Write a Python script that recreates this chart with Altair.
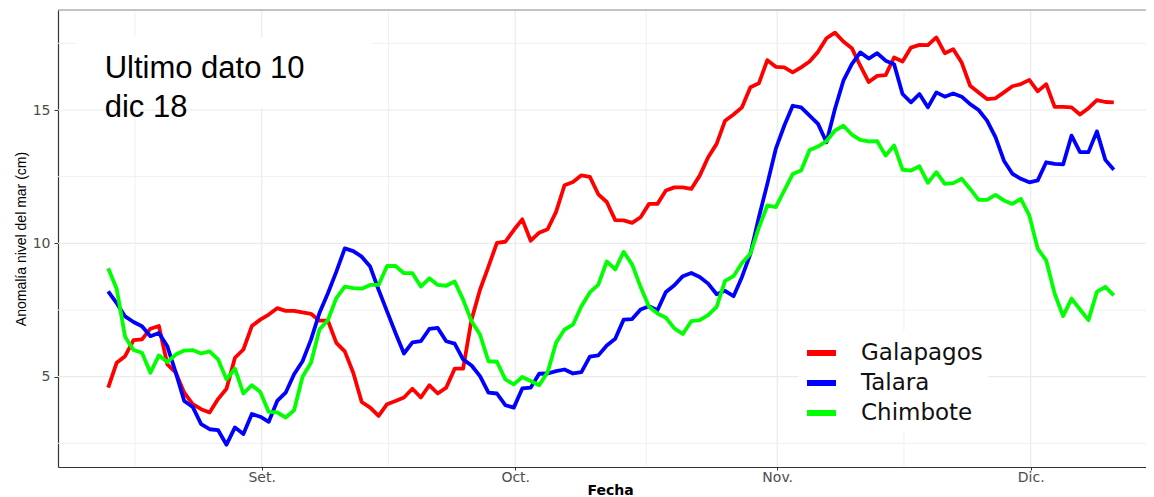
import altair as alt
import pandas as pd

# ---------------- data ----------------
series = ["Galapagos", "Talara", "Chimbote"]
colores = ["#FF0000", "#0000FF", "#00FF00"]
meses = ["Set.", "Oct.", "Nov.", "Dic."]

fechas = [d.strftime("%Y-%m-%dT%H:%M:%SZ")
          for d in pd.date_range("2018-08-13 20:00", periods=120, freq="D")]

galapagos = [4.59, 5.52, 5.77, 6.37, 6.4, 6.8, 6.9, 5.46, 5.15, 4.4,
             3.97, 3.78, 3.66, 4.16, 4.55, 5.71, 6.02, 6.9, 7.14, 7.33,
             7.57, 7.47, 7.47, 7.41, 7.36, 7.1, 7.1, 6.27, 5.95, 5.15,
             4.05, 3.84, 3.53, 3.97, 4.09, 4.22, 4.55, 4.22, 4.68, 4.37,
             4.59, 5.3, 5.3, 7.14, 8.26, 9.13, 10.02, 10.06, 10.5, 10.9,
             10.1, 10.4, 10.53, 11.18, 12.18, 12.3, 12.55, 12.49, 11.84, 11.55,
             10.87, 10.86, 10.77, 10.98, 11.48, 11.48, 11.98, 12.1, 12.1, 12.04,
             12.54, 13.23, 13.73, 14.6, 14.83, 15.1, 15.85, 16.0, 16.87, 16.62,
             16.6, 16.41, 16.6, 16.82, 17.18, 17.69, 17.9, 17.57, 17.32, 16.66,
             16.05, 16.28, 16.31, 16.97, 16.82, 17.34, 17.44, 17.43, 17.72, 17.13,
             17.28, 16.78, 15.91, 15.66, 15.41, 15.44, 15.66, 15.89, 15.97, 16.13,
             15.7, 15.97, 15.12, 15.12, 15.1, 14.83, 15.07, 15.37, 15.3, 15.29]

talara = [8.2, 7.76, 7.26, 7.05, 6.89, 6.52, 6.64, 6.14, 5.15, 4.09,
          3.87, 3.22, 3.03, 3.0, 2.45, 3.1, 2.85, 3.6, 3.5, 3.31,
          4.09, 4.4, 5.09, 5.58, 6.39, 7.39, 8.13, 8.94, 9.81, 9.71,
          9.5, 9.13, 8.26, 7.45, 6.64, 5.87, 6.29, 6.33, 6.79, 6.83,
          6.33, 6.24, 5.65, 5.42, 5.02, 4.4, 4.37, 3.93, 3.84, 4.56,
          4.59, 5.11, 5.12, 5.21, 5.27, 5.12, 5.17, 5.75, 5.8, 6.17,
          6.42, 7.14, 7.16, 7.52, 7.64, 7.49, 8.18, 8.43, 8.77, 8.89,
          8.74, 8.49, 8.09, 8.22, 8.02, 8.74, 9.61, 10.98, 12.23, 13.54,
          14.41, 15.16, 15.1, 14.79, 14.48, 13.79, 15.04, 16.1, 16.72, 17.16,
          16.93, 17.13, 16.85, 16.72, 15.6, 15.29, 15.6, 15.1, 15.66, 15.5,
          15.62, 15.5, 15.22, 15.0, 14.6, 13.98, 13.1, 12.61, 12.42, 12.29,
          12.36, 13.04, 12.98, 12.96, 14.04, 13.42, 13.42, 14.2, 13.13, 12.76]

chimbote = [9.07, 8.3, 6.5, 6.0, 5.9, 5.15, 5.8, 5.55, 5.83, 5.98,
            6.0, 5.87, 5.95, 5.65, 4.9, 5.3, 4.37, 4.68, 4.43, 3.68,
            3.66, 3.47, 3.74, 5.0, 5.52, 6.77, 7.12, 7.95, 8.38, 8.32,
            8.3, 8.44, 8.44, 9.15, 9.15, 8.88, 8.88, 8.38, 8.69, 8.44,
            8.41, 8.57, 7.89, 7.08, 6.58, 5.58, 5.56, 4.9, 4.71, 4.99,
            4.84, 4.68, 5.17, 6.27, 6.77, 6.95, 7.64, 8.16, 8.45, 9.32,
            9.02, 9.68, 9.21, 8.37, 7.62, 7.37, 7.21, 6.81, 6.6, 7.08,
            7.12, 7.31, 7.62, 8.59, 8.77, 9.26, 9.61, 10.59, 11.42, 11.36,
            11.98, 12.6, 12.73, 13.5, 13.63, 13.83, 14.23, 14.41, 14.08, 13.88,
            13.82, 13.83, 13.29, 13.67, 12.76, 12.73, 12.89, 12.27, 12.67, 12.23,
            12.26, 12.42, 12.04, 11.63, 11.63, 11.82, 11.61, 11.48, 11.67, 11.05,
            9.8, 9.36, 8.12, 7.27, 7.93, 7.52, 7.12, 8.18, 8.37, 8.05]

y_ticks = [5, 10, 15]
y_minor = [2.5, 7.5, 12.5, 17.5]
y_top = 18.75
x_major = ["2018-09-01T00:00:00Z", "2018-10-01T00:00:00Z",
           "2018-11-01T00:00:00Z", "2018-12-01T00:00:00Z"]
x_minor = ["2018-08-17T00:00:00Z", "2018-09-16T00:00:00Z",
           "2018-10-16T12:00:00Z", "2018-11-16T00:00:00Z"]

nota = "Ultimo dato 10\ndic 18"

# ---------------- tables ----------------
rows = []
for nombre, vals in zip(series, [galapagos, talara, chimbote]):
    for f, v in zip(fechas, vals):
        rows.append({"fecha": f, "serie": nombre, "valor": v})
df = pd.DataFrame(rows)

df_xmaj = pd.DataFrame({"fecha": x_major})
df_xmin = pd.DataFrame({"fecha": x_minor})
df_ymaj = pd.DataFrame({"valor": y_ticks})
df_ymin = pd.DataFrame({"valor": y_minor})
df_top = pd.DataFrame({"valor": [y_top]})
df_nota = pd.DataFrame({"fecha": ["2018-08-13T10:00:00Z"], "valor": [16.2], "texto": [nota]})
df_caja = pd.DataFrame({"fecha": ["2018-08-10T02:00:00Z"], "fecha2": ["2018-09-14T01:00:00Z"],
                        "valor": [15.06], "valor2": [17.74]})

# ---------------- encodings ----------------
label_expr = "[" + ",".join("'%s'" % m for m in meses) + "][utcmonth(datum.value) - 8]"

x_enc = alt.X(
    "fecha:T",
    scale=alt.Scale(type="utc",
                    domain=[alt.DateTime(year=2018, month=8, date=7, hours=21, minutes=29, utc=True),
                            alt.DateTime(year=2018, month=12, date=14, hours=15, minutes=27, utc=True)]),
    axis=alt.Axis(values=[alt.DateTime(year=2018, month=m, date=1, utc=True) for m in [9, 10, 11, 12]],
                  labelExpr=label_expr, title="Fecha", grid=False,
                  tickSize=3, labelPadding=0, titlePadding=-1,
                  titleX=552, titleAlign="center",
                  titleFont="DejaVu Sans", titleFontSize=14, titleFontWeight="bold",
                  titleColor="#000000"),
)
y_enc = alt.Y(
    "valor:Q",
    scale=alt.Scale(domain=[1.614, y_top], nice=False, zero=False),
    axis=alt.Axis(values=y_ticks, title="Anomalía nivel del mar (cm)", grid=False,
                  tickSize=4, labelPadding=4, titlePadding=4,
                  titleFont="Liberation Sans", titleFontSize=14, titleFontWeight="normal",
                  titleColor="#000000"),
)

grid_xmin = alt.Chart(df_xmin).mark_rule(color="#F0F0F0", strokeWidth=1).encode(x=x_enc)
grid_xmaj = alt.Chart(df_xmaj).mark_rule(color="#EBEBEB", strokeWidth=1.2).encode(x=x_enc)
grid_ymin = alt.Chart(df_ymin).mark_rule(color="#F0F0F0", strokeWidth=1).encode(y=y_enc)
grid_ymaj = alt.Chart(df_ymaj).mark_rule(color="#EBEBEB", strokeWidth=1.2).encode(y=y_enc)
borde = alt.Chart(df_top).mark_rule(color="#888888", strokeWidth=1.2).encode(y=y_enc)

caja = alt.Chart(df_caja).mark_rect(color="white").encode(
    x=x_enc, x2="fecha2:T", y=y_enc, y2="valor2:Q")

lineas = alt.Chart(df).mark_line(strokeWidth=3.8, strokeJoin="round").encode(
    x=x_enc, y=y_enc,
    color=alt.Color("serie:N", sort=series,
                    scale=alt.Scale(domain=series, range=colores),
                    legend=alt.Legend(orient="none", legendX=741, legendY=320.5, title=None,
                                      symbolType="stroke", symbolSize=841, symbolStrokeWidth=6,
                                      labelFont="DejaVu Sans", labelFontSize=23, labelColor="#111111",
                                      labelOffset=22, fillColor="white", padding=5,
                                      rowPadding=0, symbolOpacity=1)),
    detail="serie:N",
)

texto = alt.Chart(df_nota).mark_text(align="left", baseline="alphabetic", font="Liberation Sans",
                                     fontSize=31, lineHeight=39, lineBreak="\n",
                                     color="#000000").encode(
    x=x_enc, y=y_enc, text="texto:N")

chart = alt.layer(grid_xmin, grid_xmaj, grid_ymin, grid_ymaj, borde, caja, lineas, texto).properties(
    width=1088, height=457,
    autosize=alt.AutoSizeParams(type="none"),
    padding={"left": 50, "top": 2, "right": 0, "bottom": 34},
    background="white",
).configure_view(stroke=None).configure_axis(
    domainColor="#333333", domainWidth=1.2, tickColor="#333333",
    labelColor="#4D4D4D", labelFont="DejaVu Sans", labelFontSize=14,
)

chart.save("out.html", embed_options={"renderer": "svg", "actions": False})
